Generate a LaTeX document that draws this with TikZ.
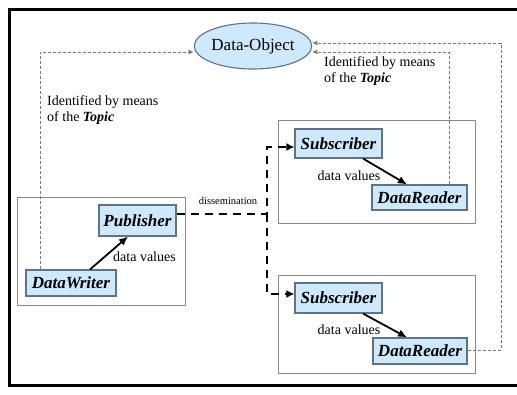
\documentclass[tikz,border=0pt]{standalone}
\usepackage{fontspec}
\setmainfont{Liberation Serif}
\usetikzlibrary{arrows.meta,calc,shapes.geometric}
\definecolor{boxfill}{HTML}{CDE9FB}
\definecolor{boxline}{HTML}{5E7384}
\definecolor{grpline}{HTML}{8A8A8A}
\definecolor{thinline}{HTML}{7A7A7A}
\tikzset{
  entity/.style={draw=boxline, fill=boxfill, line width=1.1pt, inner sep=0pt,
    font=\fontsize{17}{20}\selectfont\bfseries\itshape},
  group/.style={draw=grpline, line width=1pt},
  flow/.style={line width=1.8pt, -{Latex[length=9pt,width=8pt]}},
  dissem/.style={line width=2.2pt, dash pattern=on 8pt off 6pt, -{Latex[length=8pt,width=8pt]}},
  ident/.style={draw=thinline, line width=0.9pt, dash pattern=on 3pt off 2pt, -{Latex[length=5pt,width=5pt]}},
  lbl/.style={font=\fontsize{14}{16}\selectfont, inner sep=0pt},
}
\begin{document}
\begin{tikzpicture}[x=1pt,y=-1pt]
\useasboundingbox (0,0) rectangle (517,394);
% outer frame
\draw[line width=3pt] (517,9) -- (9,9) -- (9,385) -- (517,385);
% groups
\node[group, minimum width=168pt, minimum height=108pt, inner sep=0pt] (gL) at (101,251) {};
\node[group, minimum width=197pt, minimum height=103pt, inner sep=0pt] (gR1) at (376.5,171.5) {};
\node[group, minimum width=197pt, minimum height=98pt, inner sep=0pt] (gR2) at (376.5,324) {};
% data object
\node[ellipse, draw=boxline, fill=boxfill, line width=1.1pt, minimum width=112pt, minimum height=46pt, inner sep=0pt,
  font=\fontsize{17}{20}\selectfont] (obj) at (253,46) {Data-Object};
% entities
\node[entity, minimum width=77pt, minimum height=31pt] (pub) at (137.5,220.5) {Publisher};
\node[entity, minimum width=90pt, minimum height=26pt] (dw) at (71,283) {DataWriter};
\node[entity, minimum width=87pt, minimum height=29pt] (sub1) at (338.5,143.5) {Subscriber};
\node[entity, minimum width=95pt, minimum height=25pt] (dr1) at (419.5,197.5) {DataReader};
\node[entity, minimum width=87pt, minimum height=30pt] (sub2) at (338.5,298) {Subscriber};
\node[entity, minimum width=94pt, minimum height=26pt] (dr2) at (420,351) {DataReader};
% texts
\node[lbl, anchor=west, align=left] (tL) at (47,110) {Identified by means\\of the \textbf{\textit{Topic}}};
\node[lbl, anchor=west, align=left] (tR) at (324,71) {Identified by means\\of the \textbf{\textit{Topic}}};
\node[lbl] (dv0) at (144.5,257) {data values};
\node[lbl] (dv1) at (349,176) {data values};
\node[lbl] (dv2) at (349,330) {data values};
\node[font=\fontsize{10.5}{12}\selectfont, inner sep=0pt] (dis) at (228,201) {dissemination};
% data value flows
\draw[flow] (dw.north -| 90,0) -- (pub.south -| 128,0);
\draw[flow] (sub1.south -| 363,0) -- (dr1.north -| 407,0);
\draw[flow] (sub2.south -| 363,0) -- (dr2.north -| 407,0);
% dissemination
\coordinate (j) at (267,214);
\coordinate (j1) at (267,147);
\coordinate (j2) at (267,294);
\draw[dissem] (pub.east |- j) -- (j) -- (j1) -- (sub1.west |- j1);
\draw[dissem] (j) -- (j2) -- (sub2.west |- j2);
% identification
\coordinate (cL) at (40,52);
\coordinate (cR1) at (449,52);
\coordinate (cR2) at (501,43);
\draw[ident] (dw.north -| cL) -- (cL) -- (obj.west |- cL);
\draw[ident] (dr1.north -| cR1) -- (cR1) -- (obj.east |- cR1);
\draw[ident] (dr2.east |- 0,350) -- (cR2 |- 0,350) -- (cR2) -- (obj.east |- cR2);
\end{tikzpicture}
\end{document}
